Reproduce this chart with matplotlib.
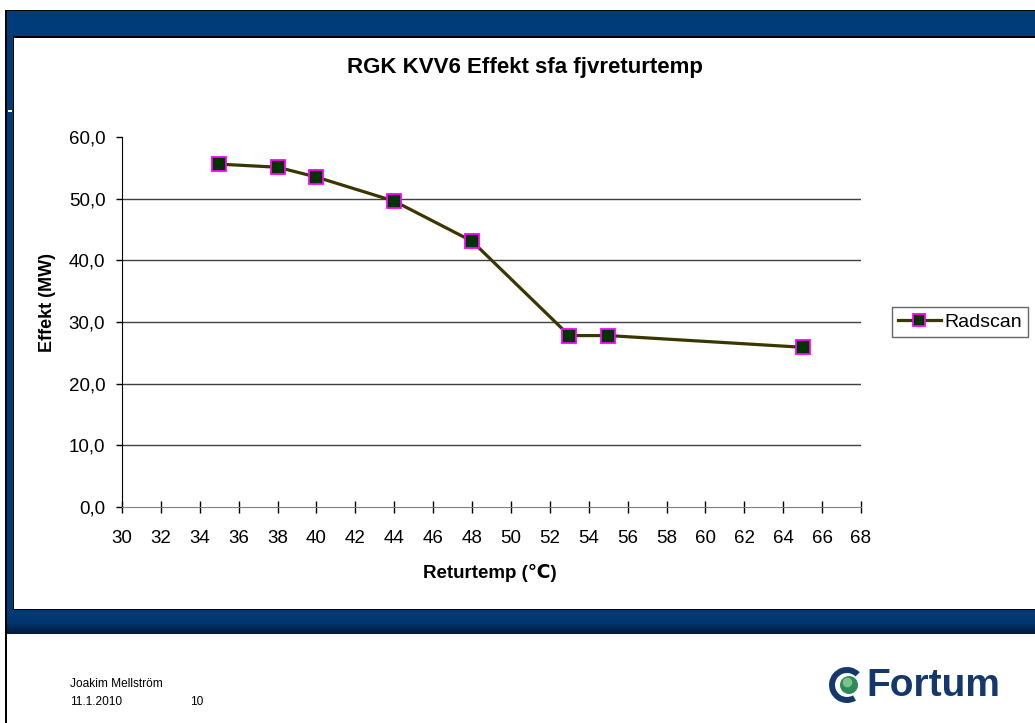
import numpy as np
import matplotlib
matplotlib.use("Agg")
import matplotlib.pyplot as plt
from matplotlib.patches import Rectangle, Circle, Wedge
from matplotlib.lines import Line2D
from matplotlib.colors import LinearSegmentedColormap

plt.rcParams['font.family'] = ['Liberation Sans', 'DejaVu Sans']

# ---- data ----
returtemp = [35, 38, 40, 44, 48, 53, 55, 65]
effekt = [55.6, 55.1, 53.5, 49.6, 43.1, 27.8, 27.8, 25.9]
series_name = "Radscan"
title = "RGK KVV6 Effekt sfa fjvreturtemp"
xlabel = "Returtemp (\u2103)"
ylabel = "Effekt (MW)"
xticks = list(range(30, 70, 2))
yticks = [0, 10, 20, 30, 40, 50, 60]
footer_name = "Joakim Mellstr\u00f6m"
footer_date = "11.1.2010"
footer_page = "10"

W, H = 1035, 723
fig = plt.figure(figsize=(W / 100, H / 100), dpi=100)
fig.patch.set_facecolor('white')

def fx(px):
    return px / W

def fy(py):
    return 1 - py / H

def rect(x0, y0, x1, y1, color, z=0):
    fig.add_artist(Rectangle((fx(x0), fy(y1)), fx(x1) - fx(x0), fy(y0) - fy(y1),
                             transform=fig.transFigure, facecolor=color,
                             edgecolor='none', zorder=z))

BLUE = '#003b7a'
# slide frame
rect(5, 10, W, 11.5, 'black', 1)          # top outer line
rect(5, 10, 7, H, 'black', 1)             # left outer line
rect(7, 11.5, W, 36, BLUE, 1)             # top band
rect(7, 11.5, 13, 610, BLUE, 1)           # left strip
rect(13, 36, W, 37.5, 'black', 2)         # inner top line
rect(12.5, 36, 14, 609, 'black', 2)       # inner left line
rect(8, 110, 12, 112, 'white', 3)         # small dash
rect(13, 608.5, W, 610, 'black', 2)       # bottom inner line

# bottom band gradient
gax = fig.add_axes([fx(7), fy(634), fx(W) - fx(7), fy(610) - fy(634)], zorder=1)
grad = np.linspace(0, 1, 50).reshape(-1, 1)
cmap = LinearSegmentedColormap.from_list('b', ['#003b7a', '#003770', '#001a38'])
gax.imshow(grad, aspect='auto', cmap=cmap, extent=[0, 1, 0, 1], origin='upper')
gax.axis('off')

# ---- chart ----
ax = fig.add_axes([fx(122), fy(507), fx(861) - fx(122), fy(137) - fy(507)])
ax.set_xlim(30, 68)
ax.set_ylim(0, 60)
for v in yticks[1:-1]:
    ax.axhline(v, color='#404040', lw=1, zorder=1)
ax.plot(returtemp, effekt, color='#3a3600', lw=2.3, marker='s', ms=10,
        markerfacecolor='#003300', markeredgecolor='#ff00ff', markeredgewidth=1.3,
        zorder=3, label=series_name)
ax.spines['top'].set_visible(False)
ax.spines['right'].set_visible(False)
ax.spines['left'].set_color('black')
ax.spines['bottom'].set_color('#808080')
ax.set_xticks(xticks)
ax.set_yticks(yticks)
ax.set_yticklabels([f"{v:.1f}".replace('.', ',') for v in yticks])
ax.tick_params(axis='x', direction='inout', length=9, width=1, colors='black',
               labelsize=13.5, pad=12)
ax.tick_params(axis='y', direction='out', length=4, width=1, colors='black',
               labelsize=13.5, pad=8)

fig.text(fx(525), fy(68), title, ha='center', va='center', fontsize=16,
         fontweight='bold')
fig.text(fx(490), fy(573), xlabel, ha='center', va='center', fontsize=13.5,
         fontweight='bold')
fig.text(fx(47), fy(302), ylabel, ha='center', va='center', fontsize=13,
         fontweight='bold', rotation=90)

handle = Line2D([], [], color='#3a3600', lw=2.3, marker='s', ms=8.5,
                markerfacecolor='#003300', markeredgecolor='#ff00ff',
                markeredgewidth=1.3)
leg = fig.legend([handle], [series_name], loc='center left',
                 bbox_to_anchor=(fx(892), fy(322)), fontsize=14, frameon=True,
                 fancybox=False, borderpad=0.3, handlelength=2.2,
                 handletextpad=0.2, borderaxespad=0)
leg.get_frame().set_edgecolor('#404040')
leg.get_frame().set_linewidth(1)

# ---- footer ----
fig.text(fx(70), fy(684), footer_name, ha='left', va='center', fontsize=8.6)
fig.text(fx(70), fy(702), footer_date, ha='left', va='center', fontsize=8.6)
fig.text(fx(190), fy(702), footer_page, ha='left', va='center', fontsize=8.6)

# Fortum logo
fig.text(fx(866), fy(686), "Fortum", ha='left', va='center', fontsize=28,
         fontweight='bold', color='#14386b')
lax = fig.add_axes([fx(826), fy(707), fx(866) - fx(826), fy(663) - fy(707)])
lax.set_xlim(0, 40)
lax.set_ylim(0, 44)
lax.set_aspect('equal')
lax.axis('off')
lax.add_patch(Wedge((21, 22), 18, 45, 300, width=6, facecolor='#14386b', edgecolor='none'))
lax.add_patch(Circle((23, 22), 9, facecolor='#2e8b57', edgecolor='none'))
lax.add_patch(Circle((21.5, 24.5), 4.8, facecolor='#8fd19e', edgecolor='none', alpha=0.8))

fig.savefig('out.png', dpi=100)
